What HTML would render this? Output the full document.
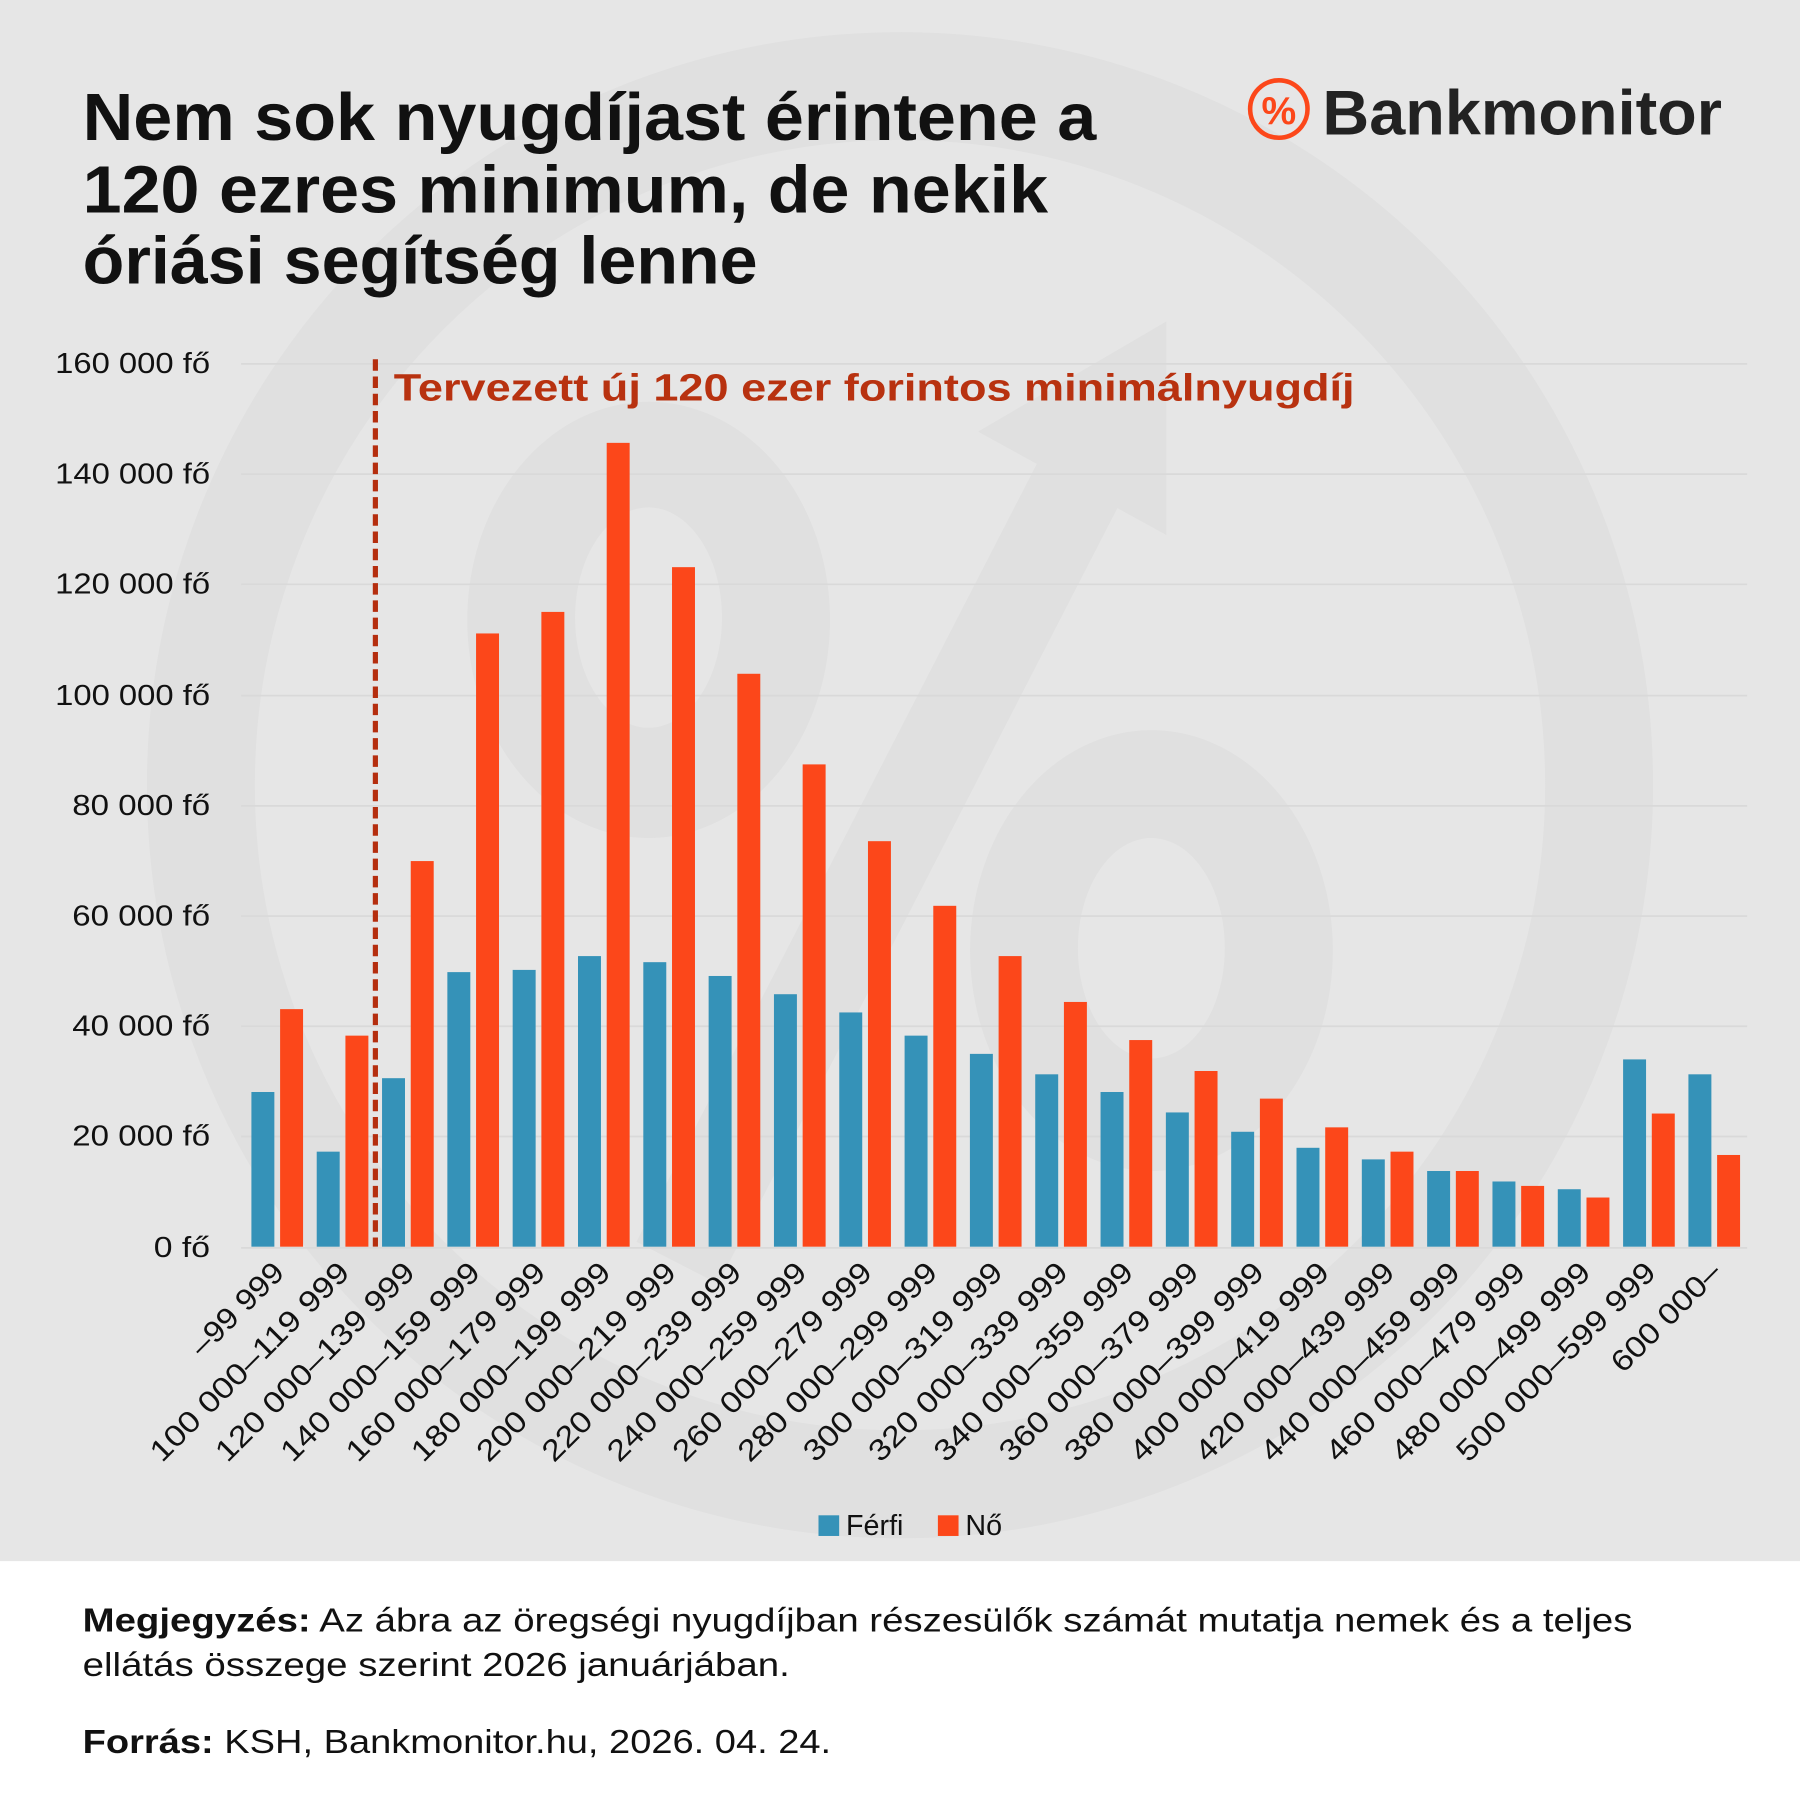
<!DOCTYPE html>
<html><head><meta charset="utf-8"><style>
html,body{margin:0;padding:0;background:#fff}
svg{display:block}
text{font-family:"Liberation Sans",sans-serif}
</style></head><body>
<svg width="1800" height="1800" viewBox="0 0 1568 1568" xmlns="http://www.w3.org/2000/svg">
<rect x="0" y="0" width="1568" height="1360" fill="#e6e6e6"/>
<rect x="0" y="1360" width="1568" height="208" fill="#ffffff"/>
<clipPath id="c"><rect x="0" y="0" width="1568" height="1360"/></clipPath>
<g clip-path="url(#c)" fill="#e0e0e0">
<circle cx="784" cy="684" r="609" fill="none" stroke="#e0e0e0" stroke-width="94"/>
<path fill-rule="evenodd" d="M565,350 a158,190 0 1,0 0.1,0 Z M565,442 a64,96 0 1,1 -0.1,0 Z"/>
<path fill-rule="evenodd" d="M1003,636 a158,192 0 1,0 0.1,0 Z M1003,730 a64,96 0 1,1 -0.1,0 Z"/>
<line x1="590" y1="1100" x2="940" y2="420" stroke="#e0e0e0" stroke-width="80"/>
<polygon points="852,376 1016,280 1016,466"/>
</g>
<g font-weight="bold" fill="#111" font-size="58">
<text x="72" y="122" textLength="883" lengthAdjust="spacingAndGlyphs">Nem sok nyugdíjast érintene a</text>
<text x="72" y="185" textLength="841" lengthAdjust="spacingAndGlyphs">120 ezres minimum, de nekik</text>
<text x="72" y="247" textLength="588" lengthAdjust="spacingAndGlyphs">óriási segítség lenne</text>
</g>
<circle cx="1114" cy="95" r="25" fill="none" stroke="#fc471a" stroke-width="4"/>
<text x="1114" y="108" font-size="34" font-weight="bold" fill="#fc471a" text-anchor="middle">%</text>
<text x="1152" y="117" font-size="55" font-weight="bold" fill="#222" textLength="348" lengthAdjust="spacingAndGlyphs">Bankmonitor</text>
<g stroke="#d9d9d9" stroke-width="1.5">
<line x1="210" y1="317" x2="1522" y2="317"/><line x1="210" y1="413" x2="1522" y2="413"/><line x1="210" y1="509" x2="1522" y2="509"/><line x1="210" y1="606" x2="1522" y2="606"/><line x1="210" y1="702" x2="1522" y2="702"/><line x1="210" y1="798" x2="1522" y2="798"/><line x1="210" y1="894" x2="1522" y2="894"/><line x1="210" y1="990" x2="1522" y2="990"/><line x1="210" y1="1087" x2="1522" y2="1087"/>
</g>
<g font-size="25" fill="#111">
<text x="48" y="325" textLength="135" lengthAdjust="spacingAndGlyphs">160 000 fő</text><text x="48" y="421" textLength="135" lengthAdjust="spacingAndGlyphs">140 000 fő</text><text x="48" y="517" textLength="135" lengthAdjust="spacingAndGlyphs">120 000 fő</text><text x="48" y="614" textLength="135" lengthAdjust="spacingAndGlyphs">100 000 fő</text><text x="63" y="710" textLength="120" lengthAdjust="spacingAndGlyphs">80 000 fő</text><text x="63" y="806" textLength="120" lengthAdjust="spacingAndGlyphs">60 000 fő</text><text x="63" y="902" textLength="120" lengthAdjust="spacingAndGlyphs">40 000 fő</text><text x="63" y="998" textLength="120" lengthAdjust="spacingAndGlyphs">20 000 fő</text><text x="134" y="1095" textLength="49" lengthAdjust="spacingAndGlyphs">0 fő</text>
</g>
<g fill="#3592b8">
<rect x="219" y="951.25" width="20" height="134.75"/>
<rect x="275.9" y="1003.22" width="20" height="82.78"/>
<rect x="332.8" y="939.22" width="20" height="146.78"/>
<rect x="389.7" y="846.82" width="20" height="239.18"/>
<rect x="446.6" y="844.89" width="20" height="241.11"/>
<rect x="503.5" y="832.86" width="20" height="253.14"/>
<rect x="560.4" y="838.16" width="20" height="247.84"/>
<rect x="617.3" y="850.19" width="20" height="235.81"/>
<rect x="674.2" y="866.07" width="20" height="219.93"/>
<rect x="731.1" y="881.95" width="20" height="204.05"/>
<rect x="788" y="902.16" width="20" height="183.84"/>
<rect x="844.9" y="918.04" width="20" height="167.96"/>
<rect x="901.8" y="935.85" width="20" height="150.15"/>
<rect x="958.7" y="951.25" width="20" height="134.75"/>
<rect x="1015.6" y="969.06" width="20" height="116.94"/>
<rect x="1072.5" y="985.9" width="20" height="100.1"/>
<rect x="1129.4" y="999.86" width="20" height="86.14"/>
<rect x="1186.3" y="1009.96" width="20" height="76.04"/>
<rect x="1243.2" y="1020.07" width="20" height="65.93"/>
<rect x="1300.1" y="1029.21" width="20" height="56.79"/>
<rect x="1357" y="1035.95" width="20" height="50.05"/>
<rect x="1413.9" y="922.86" width="20" height="163.14"/>
<rect x="1470.8" y="935.85" width="20" height="150.15"/>
</g>
<g fill="#fc471a">
<rect x="244" y="879.06" width="20" height="206.94"/>
<rect x="300.9" y="902.16" width="20" height="183.84"/>
<rect x="357.8" y="750.09" width="20" height="335.91"/>
<rect x="414.7" y="551.81" width="20" height="534.19"/>
<rect x="471.6" y="533.04" width="20" height="552.96"/>
<rect x="528.5" y="385.78" width="20" height="700.22"/>
<rect x="585.4" y="494.06" width="20" height="591.94"/>
<rect x="642.3" y="586.94" width="20" height="499.06"/>
<rect x="699.2" y="665.87" width="20" height="420.13"/>
<rect x="756.1" y="732.76" width="20" height="353.24"/>
<rect x="813" y="789.07" width="20" height="296.93"/>
<rect x="869.9" y="832.86" width="20" height="253.14"/>
<rect x="926.8" y="872.81" width="20" height="213.19"/>
<rect x="983.7" y="906.01" width="20" height="179.99"/>
<rect x="1040.6" y="932.96" width="20" height="153.04"/>
<rect x="1097.5" y="957.02" width="20" height="128.98"/>
<rect x="1154.4" y="982.05" width="20" height="103.95"/>
<rect x="1211.3" y="1003.22" width="20" height="82.78"/>
<rect x="1268.2" y="1020.07" width="20" height="65.93"/>
<rect x="1325.1" y="1033.06" width="20" height="52.94"/>
<rect x="1382" y="1043.17" width="20" height="42.83"/>
<rect x="1438.9" y="970.02" width="20" height="115.98"/>
<rect x="1495.8" y="1006.11" width="20" height="79.89"/>
</g>
<g font-size="26" fill="#111" text-anchor="end">
<text transform="translate(249,1110) rotate(-45)" textLength="103" lengthAdjust="spacingAndGlyphs">–99 999</text>
<text transform="translate(305.9,1110) rotate(-45)" textLength="233" lengthAdjust="spacingAndGlyphs">100 000–119 999</text>
<text transform="translate(362.8,1110) rotate(-45)" textLength="233" lengthAdjust="spacingAndGlyphs">120 000–139 999</text>
<text transform="translate(419.7,1110) rotate(-45)" textLength="233" lengthAdjust="spacingAndGlyphs">140 000–159 999</text>
<text transform="translate(476.6,1110) rotate(-45)" textLength="233" lengthAdjust="spacingAndGlyphs">160 000–179 999</text>
<text transform="translate(533.5,1110) rotate(-45)" textLength="233" lengthAdjust="spacingAndGlyphs">180 000–199 999</text>
<text transform="translate(590.4,1110) rotate(-45)" textLength="233" lengthAdjust="spacingAndGlyphs">200 000–219 999</text>
<text transform="translate(647.3,1110) rotate(-45)" textLength="233" lengthAdjust="spacingAndGlyphs">220 000–239 999</text>
<text transform="translate(704.2,1110) rotate(-45)" textLength="233" lengthAdjust="spacingAndGlyphs">240 000–259 999</text>
<text transform="translate(761.1,1110) rotate(-45)" textLength="233" lengthAdjust="spacingAndGlyphs">260 000–279 999</text>
<text transform="translate(818,1110) rotate(-45)" textLength="233" lengthAdjust="spacingAndGlyphs">280 000–299 999</text>
<text transform="translate(874.9,1110) rotate(-45)" textLength="233" lengthAdjust="spacingAndGlyphs">300 000–319 999</text>
<text transform="translate(931.8,1110) rotate(-45)" textLength="233" lengthAdjust="spacingAndGlyphs">320 000–339 999</text>
<text transform="translate(988.7,1110) rotate(-45)" textLength="233" lengthAdjust="spacingAndGlyphs">340 000–359 999</text>
<text transform="translate(1045.6,1110) rotate(-45)" textLength="233" lengthAdjust="spacingAndGlyphs">360 000–379 999</text>
<text transform="translate(1102.5,1110) rotate(-45)" textLength="233" lengthAdjust="spacingAndGlyphs">380 000–399 999</text>
<text transform="translate(1159.4,1110) rotate(-45)" textLength="233" lengthAdjust="spacingAndGlyphs">400 000–419 999</text>
<text transform="translate(1216.3,1110) rotate(-45)" textLength="233" lengthAdjust="spacingAndGlyphs">420 000–439 999</text>
<text transform="translate(1273.2,1110) rotate(-45)" textLength="233" lengthAdjust="spacingAndGlyphs">440 000–459 999</text>
<text transform="translate(1330.1,1110) rotate(-45)" textLength="233" lengthAdjust="spacingAndGlyphs">460 000–479 999</text>
<text transform="translate(1387,1110) rotate(-45)" textLength="233" lengthAdjust="spacingAndGlyphs">480 000–499 999</text>
<text transform="translate(1443.9,1110) rotate(-45)" textLength="233" lengthAdjust="spacingAndGlyphs">500 000–599 999</text>
<text transform="translate(1500.8,1110) rotate(-45)" textLength="123" lengthAdjust="spacingAndGlyphs">600 000–</text>
</g>
<line x1="327" y1="313" x2="327" y2="1086" stroke="#b52e0e" stroke-width="4.5" stroke-dasharray="10,5"/>
<text x="343" y="349" font-size="33" font-weight="bold" fill="#b83210" textLength="837" lengthAdjust="spacingAndGlyphs">Tervezett új 120 ezer forintos minimálnyugdíj</text>
<rect x="713" y="1320" width="18" height="18" fill="#3592b8"/>
<text x="737" y="1337" font-size="25" fill="#111">Férfi</text>
<rect x="817" y="1320" width="18" height="18" fill="#fc471a"/>
<text x="841" y="1337" font-size="25" fill="#111">Nő</text>
<text x="72" y="1421" font-size="29" fill="#111" textLength="1350" lengthAdjust="spacingAndGlyphs"><tspan font-weight="bold">Megjegyzés:</tspan> Az ábra az öregségi nyugdíjban részesülők számát mutatja nemek és a teljes</text>
<text x="72" y="1460" font-size="29" fill="#111" textLength="616" lengthAdjust="spacingAndGlyphs">ellátás összege szerint 2026 januárjában.</text>
<text x="72" y="1527" font-size="29" fill="#111" textLength="652" lengthAdjust="spacingAndGlyphs"><tspan font-weight="bold">Forrás:</tspan> KSH, Bankmonitor.hu, 2026. 04. 24.</text>
</svg>
</body></html>
